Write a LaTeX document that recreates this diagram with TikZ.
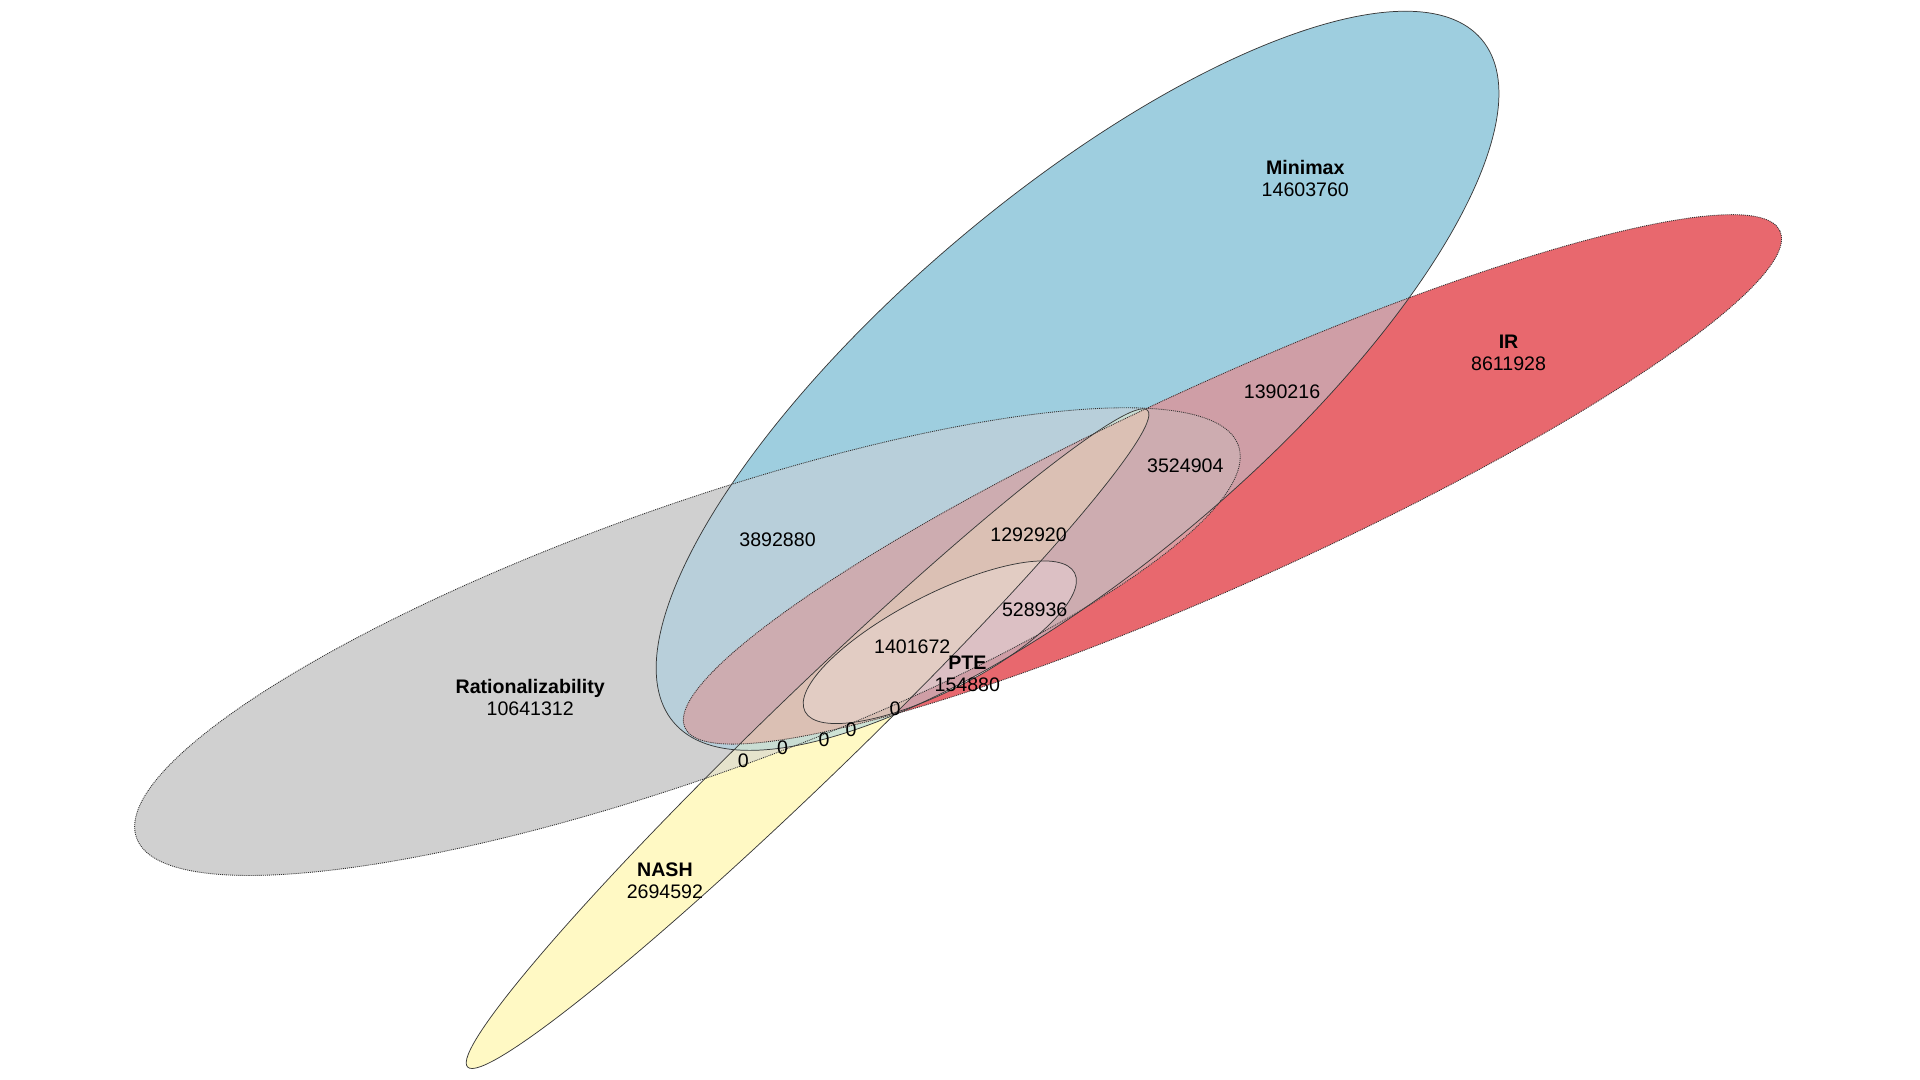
\documentclass[tikz,border=0pt]{standalone}
\usepackage{fontspec}
\setmainfont{Liberation Sans}
\begin{document}
\begin{tikzpicture}[x=1pt,y=1pt,
  sMin/.style={shift={(880,571)},rotate=40.2,x radius=432,y radius=151},
  sIR/.style={shift={(1006.5,490.5)},rotate=24.4,x radius=491,y radius=82},
  sRat/.style={shift={(561.4,358)},rotate=19.6,x radius=477.6,y radius=110.3},
  sNash/.style={shift={(659.5,278.75)},rotate=44.0,x radius=386,y radius=35.5},
  sPTE/.style={shift={(767.5,357.5)},rotate=27.2,x radius=123.8,y radius=39.1},
  solidline/.style={draw=black!78,line width=0.6pt},
  dotline/.style={draw=black!80,line width=0.7pt,dash pattern=on 0.8pt off 0.8pt},
  lab/.style={inner sep=0pt,align=center,font=\fontsize{16}{18}\selectfont}
]
\definecolor{cMin}{HTML}{9ECEDF}
\definecolor{cIR}{HTML}{E8686E}
\definecolor{cRat}{HTML}{D0D0D0}
\definecolor{cNash}{HTML}{FFF9C4}
\definecolor{cPTE}{HTML}{F4E6E2}
\definecolor{cMinRat}{HTML}{B8CFDA}
\definecolor{cMinIR}{HTML}{CF9EA6}
\definecolor{cIRRat}{HTML}{DC9CA0}
\definecolor{cRatNash}{HTML}{E6E3CC}
\definecolor{cMinNash}{HTML}{CEE3D6}
\definecolor{cIRNash}{HTML}{F2B29E}
\definecolor{cMinIRRat}{HTML}{CDACB0}
\definecolor{cMinRatNash}{HTML}{C9DDD3}
\definecolor{cIRRatNash}{HTML}{E4C2B6}
\definecolor{cMinIRNash}{HTML}{D8BFB4}
\definecolor{cMinIRRatNash}{HTML}{DBC0B4}
\definecolor{cMinIRRatPTE}{HTML}{DCC0C4}
\definecolor{cAll}{HTML}{E2CCC3}

\fill[white] (0,0) rectangle (1568,882);
\useasboundingbox (0,0) rectangle (1568,882);

% single sets
\fill[cRat,sRat] (0,0) ellipse;
\fill[cMin,sMin] (0,0) ellipse;
\fill[cIR,sIR] (0,0) ellipse;
\fill[cNash,sNash] (0,0) ellipse;
\fill[cPTE,sPTE] (0,0) ellipse;
% pairs
\begin{scope}\clip[sMin] (0,0) ellipse; \fill[cMinRat,sRat] (0,0) ellipse;\end{scope}
\begin{scope}\clip[sMin] (0,0) ellipse; \fill[cMinIR,sIR] (0,0) ellipse;\end{scope}
\begin{scope}\clip[sIR] (0,0) ellipse; \fill[cIRRat,sRat] (0,0) ellipse;\end{scope}
\begin{scope}\clip[sRat] (0,0) ellipse; \fill[cRatNash,sNash] (0,0) ellipse;\end{scope}
\begin{scope}\clip[sMin] (0,0) ellipse; \fill[cMinNash,sNash] (0,0) ellipse;\end{scope}
\begin{scope}\clip[sIR] (0,0) ellipse; \fill[cIRNash,sNash] (0,0) ellipse;\end{scope}
% triples
\begin{scope}\clip[sMin] (0,0) ellipse; \clip[sIR] (0,0) ellipse; \fill[cMinIRRat,sRat] (0,0) ellipse;\end{scope}
\begin{scope}\clip[sMin] (0,0) ellipse; \clip[sRat] (0,0) ellipse; \fill[cMinRatNash,sNash] (0,0) ellipse;\end{scope}
\begin{scope}\clip[sIR] (0,0) ellipse; \clip[sRat] (0,0) ellipse; \fill[cIRRatNash,sNash] (0,0) ellipse;\end{scope}
\begin{scope}\clip[sMin] (0,0) ellipse; \clip[sIR] (0,0) ellipse; \fill[cMinIRNash,sNash] (0,0) ellipse;\end{scope}
% quadruples
\begin{scope}\clip[sMin] (0,0) ellipse; \clip[sIR] (0,0) ellipse; \clip[sRat] (0,0) ellipse; \fill[cMinIRRatNash,sNash] (0,0) ellipse;\end{scope}
\begin{scope}\clip[sMin] (0,0) ellipse; \clip[sIR] (0,0) ellipse; \clip[sRat] (0,0) ellipse; \fill[cMinIRRatPTE,sPTE] (0,0) ellipse;\end{scope}
% all five
\begin{scope}\clip[sMin] (0,0) ellipse; \clip[sIR] (0,0) ellipse; \clip[sRat] (0,0) ellipse; \clip[sNash] (0,0) ellipse; \fill[cAll,sPTE] (0,0) ellipse;\end{scope}

% outlines
\path[dotline,sRat] (0,0) ellipse;
\path[dotline,sIR] (0,0) ellipse;
\path[solidline,sMin] (0,0) ellipse;
\path[solidline,sNash] (0,0) ellipse;
\path[solidline,sPTE] (0,0) ellipse;

% labels
\node[lab] (tMin) at (1066,736) {\textbf{Minimax}\\14603760};
\node[lab] (tIR) at (1232,594) {\textbf{IR}\\8611928};
\node[lab] (tRat) at (433,312.5) {\textbf{Rationalizability}\\10641312};
\node[lab] (tNash) at (543,162.5) {\textbf{NASH}\\2694592};
\node[lab] (tPTE) at (790,332) {\textbf{PTE}\\154880};
\node[lab] (r1) at (635,441) {3892880};
\node[lab] (r2) at (1047,562) {1390216};
\node[lab] (r3) at (968,502) {3524904};
\node[lab] (r4) at (840,445) {1292920};
\node[lab] (r5) at (845,384) {528936};
\node[lab] (r6) at (745,354) {1401672};
\node[lab] (z1) at (607,261) {0};
\node[lab] (z2) at (639,271) {0};
\node[lab] (z3) at (673,278) {0};
\node[lab] (z4) at (695,286) {0};
\node[lab] (z5) at (731,303) {0};
\end{tikzpicture}
\end{document}
